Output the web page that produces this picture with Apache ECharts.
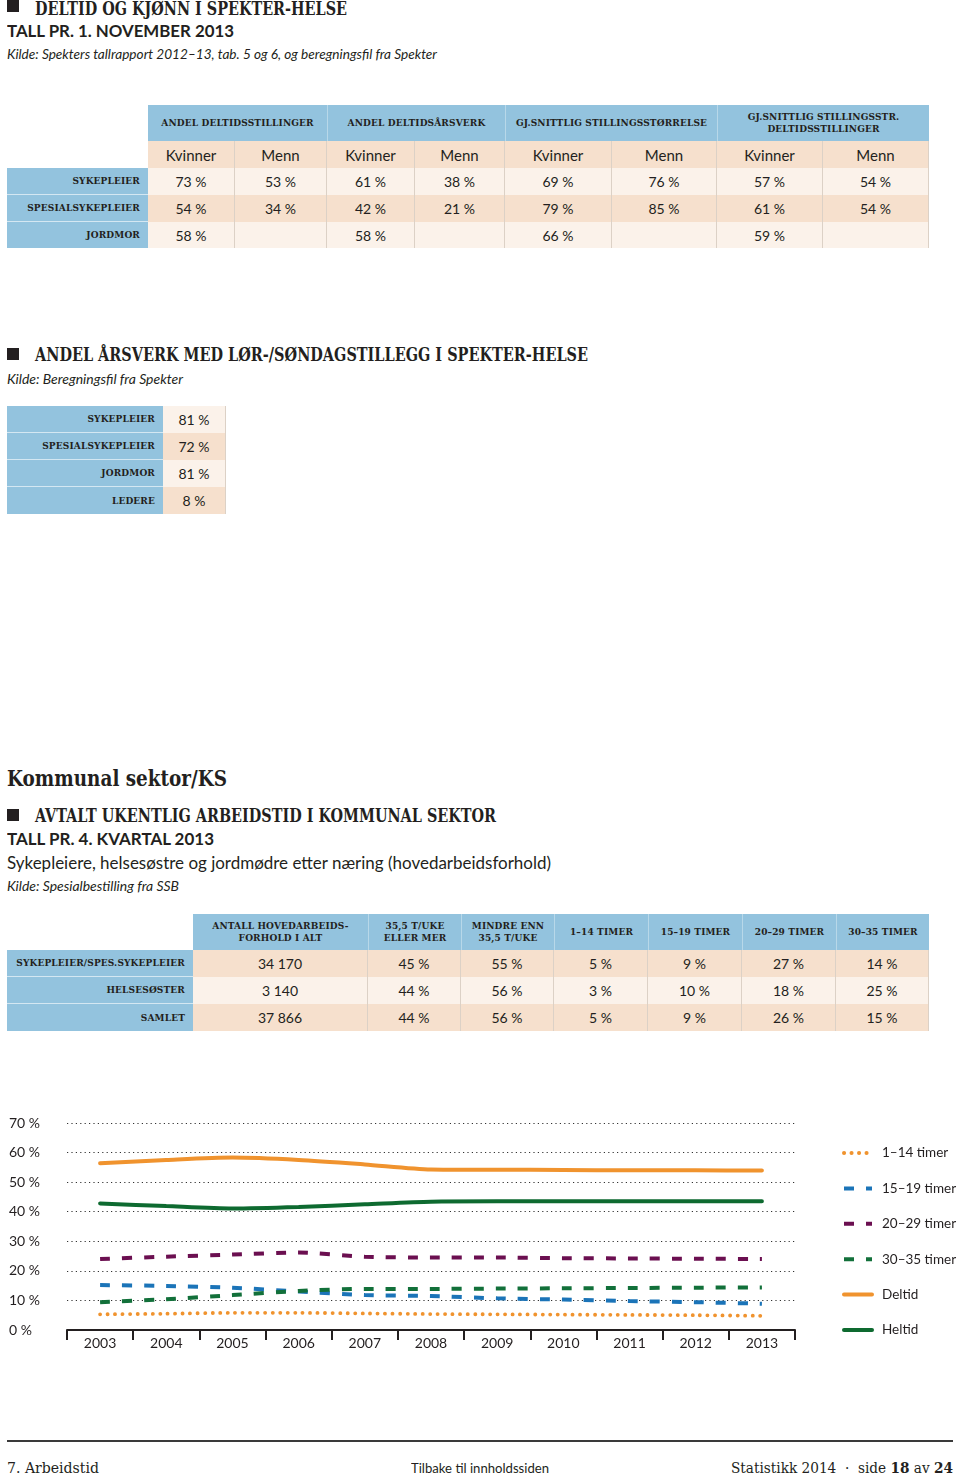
<!DOCTYPE html>
<html><head><meta charset="utf-8">
<script src="https://cdn.jsdelivr.net/npm/echarts@6/dist/echarts.min.js"></script>
<style>
body{margin:0;width:960px;height:1477px;position:relative;background:#fff;color:#231f20;overflow:hidden;font-family:Lato,"Open Sans",sans-serif}
.a{position:absolute;white-space:nowrap;transform-origin:left center}
.slab{font-family:"DejaVu Serif Condensed","DejaVu Serif",serif;font-stretch:condensed;font-weight:bold}
.sq{position:absolute;width:12px;height:12px;background:#231f20}
.cell{position:absolute;box-sizing:border-box;display:flex;align-items:center;justify-content:center;text-align:center;white-space:nowrap}
.hd{font-family:"DejaVu Serif Condensed","DejaVu Serif",serif;font-stretch:condensed;font-weight:bold;font-size:10px;line-height:12px;letter-spacing:0.15px}
.num{font-size:14px}
</style></head><body>
<div id="page"></div>
<div id="chart" style="position:absolute;left:0;top:1090px;width:960px;height:290px"></div>
<script>
// ---------- DATA ----------
const t1Groups = ['ANDEL DELTIDSSTILLINGER', 'ANDEL DELTIDSÅRSVERK', 'GJ.SNITTLIG STILLINGSSTØRRELSE', 'GJ.SNITTLIG STILLINGSSTR.<br>DELTIDSSTILLINGER'];
const t1Sub = ['Kvinner', 'Menn'];
const t1Rows = ['SYKEPLEIER', 'SPESIALSYKEPLEIER', 'JORDMOR'];
const t1Sykepleier = [73, 53, 61, 38, 69, 76, 57, 54];
const t1Spesialsykepleier = [54, 34, 42, 21, 79, 85, 61, 54];
const t1Jordmor = [58, null, 58, null, 66, null, 59, null];

const t2Rows = ['SYKEPLEIER', 'SPESIALSYKEPLEIER', 'JORDMOR', 'LEDERE'];
const t2Values = [81, 72, 81, 8];

const t3Headers = ['ANTALL HOVEDARBEIDS-<br>FORHOLD I ALT', '35,5 T/UKE<br>ELLER MER', 'MINDRE ENN<br>35,5 T/UKE', '1–14 TIMER', '15–19 TIMER', '20–29 TIMER', '30–35 TIMER'];
const t3Rows = ['SYKEPLEIER/SPES.SYKEPLEIER', 'HELSESØSTER', 'SAMLET'];
const t3Antall = [34170, 3140, 37866];
const t3Sykepleier = [45, 55, 5, 9, 27, 14];
const t3Helsesoster = [44, 56, 3, 10, 18, 25];
const t3Samlet = [44, 56, 5, 9, 26, 15];

const years = ['2003', '2004', '2005', '2006', '2007', '2008', '2009', '2010', '2011', '2012', '2013'];
const yTicks = [0, 10, 20, 30, 40, 50, 60, 70];
const timer1_14 = [5.3, 5.5, 5.8, 5.8, 5.6, 5.4, 5.3, 5.2, 5.1, 5.0, 4.8];
const timer15_19 = [15.2, 14.9, 14.3, 13.0, 11.8, 11.5, 10.7, 10.3, 9.8, 9.4, 8.9];
const timer20_29 = [24.0, 24.8, 25.5, 26.2, 24.8, 24.5, 24.5, 24.3, 24.2, 24.1, 24.0];
const timer30_35 = [9.4, 10.4, 11.8, 13.2, 13.9, 13.9, 14.0, 14.1, 14.2, 14.3, 14.4];
const deltid = [56.4, 57.5, 58.3, 57.5, 56.0, 54.3, 54.2, 54.1, 54.0, 54.0, 53.9];
const heltid = [42.8, 41.9, 41.1, 41.6, 42.5, 43.4, 43.5, 43.5, 43.5, 43.5, 43.5];

// ---------- LAYOUT ----------
const C = {blue: '#93c3de', peach: '#f6e0cd', light: '#fbf2ea', line: '#dcd1c6', ink: '#231f20'};
const page = document.getElementById('page');
function el(html) { const d = document.createElement('div'); d.innerHTML = html; const e = d.firstChild; page.appendChild(e); return e; }
function cell(x0, y0, x1, y1, bg, content, cls, extra) {
  const e = document.createElement('div');
  e.className = 'cell ' + (cls || '');
  e.style.cssText = `left:${x0}px;top:${y0}px;width:${x1 - x0}px;height:${y1 - y0}px;background:${bg};` + (extra || '');
  e.innerHTML = content;
  page.appendChild(e);
  return e;
}
function label(x0, y0, x1, y1, text) {
  return cell(x0, y0, x1, y1, C.blue, text, 'hd', 'justify-content:flex-end;padding-right:8px;');
}
const pct = v => v == null ? '' : v + ' %';
const thou = v => String(v).replace(/\B(?=(\d{3})+(?!\d))/g, ' ');

// Headings
function text(x, cy, size, s, cls, w, extraStyle) {
  const lh = Math.round(size * 1.25);
  const e = el(`<div class="a ${cls || ''}" style="left:${x}px;top:${cy - lh / 2}px;font-size:${size}px;line-height:${lh}px;${extraStyle || ''}">${s}</div>`);
  if (w) e.dataset.w = w;
  return e;
}
el('<div class="sq" style="left:7px;top:0px"></div>');
text(35, 8, 18, 'DELTID OG KJØNN I SPEKTER-HELSE', 'slab', 312);
text(7, 30, 17, 'TALL PR. 1. NOVEMBER 2013', '', 227, 'font-weight:bold');
text(7, 54, 14, 'Kilde: Spekters tallrapport 2012–13, tab. 5 og 6, og beregningsfil fra Spekter', '', 430, 'font-style:italic');

el('<div class="sq" style="left:7px;top:348px"></div>');
text(35, 354, 18, 'ANDEL ÅRSVERK MED LØR-/SØNDAGSTILLEGG I SPEKTER-HELSE', 'slab', 553);
text(7, 379, 14, 'Kilde: Beregningsfil fra Spekter', '', 176, 'font-style:italic');

text(7, 778, 22, 'Kommunal sektor/KS', 'slab', 220);
el('<div class="sq" style="left:7px;top:809px"></div>');
text(35, 815, 18, 'AVTALT UKENTLIG ARBEIDSTID I KOMMUNAL SEKTOR', 'slab', 461);
text(7, 838, 17, 'TALL PR. 4. KVARTAL 2013', '', 207, 'font-weight:bold');
text(7, 862, 17, 'Sykepleiere, helsesøstre og jordmødre etter næring (hovedarbeidsforhold)', '', 544);
text(7, 886, 14, 'Kilde: Spesialbestilling fra SSB', '', 172, 'font-style:italic');

// Table 1
const c1 = [148, 235, 327, 415, 505, 612, 717, 823, 929];
const r1 = [105, 141, 168, 195, 222, 248];
t1Groups.forEach((g, i) => {
  cell(c1[2 * i], r1[0], c1[2 * i + 2], r1[1], C.blue, g, 'hd', i > 0 ? 'border-left:1px solid rgba(255,255,255,0.35);' : '');
});
for (let j = 0; j < 8; j++) {
  cell(c1[j], r1[1], c1[j + 1], r1[2], C.peach, t1Sub[j % 2], '', `font-size:15px;border-right:1px solid ${C.line};`);
}
const t1Data = [t1Sykepleier, t1Spesialsykepleier, t1Jordmor];
t1Rows.forEach((name, i) => {
  const bg = i % 2 === 0 ? C.light : C.peach;
  label(7, r1[i + 2], 148, r1[i + 3], name).style.borderBottom = i < 2 ? '1px solid rgba(255,255,255,0.6)' : '';
  t1Data[i].forEach((v, j) => {
    cell(c1[j], r1[i + 2], c1[j + 1], r1[i + 3], bg, pct(v), 'num', `border-right:1px solid ${C.line};`);
  });
});

// Table 2
const r2 = [406, 433, 460, 487, 514];
t2Rows.forEach((name, i) => {
  label(7, r2[i], 163, r2[i + 1], name).style.borderBottom = i < 3 ? '1px solid rgba(255,255,255,0.6)' : '';
  cell(163, r2[i], 226, r2[i + 1], i % 2 === 0 ? C.light : C.peach, pct(t2Values[i]), 'num', `border-right:1px solid ${C.line};`);
});

// Table 3
const c3 = [193, 368, 461, 554, 648, 742, 836, 929];
const r3 = [914, 950, 977, 1004, 1031];
t3Headers.forEach((h, i) => {
  cell(c3[i], r3[0], c3[i + 1], r3[1], C.blue, h, 'hd', i > 0 ? 'border-left:1px solid rgba(255,255,255,0.35);' : '');
});
const t3Data = [t3Sykepleier, t3Helsesoster, t3Samlet];
t3Rows.forEach((name, i) => {
  const bg = i % 2 === 0 ? C.peach : C.light;
  label(7, r3[i + 1], 193, r3[i + 2], name).style.borderBottom = i < 2 ? '1px solid rgba(255,255,255,0.6)' : '';
  cell(c3[0], r3[i + 1], c3[1], r3[i + 2], bg, thou(t3Antall[i]), 'num', `border-right:1px solid ${C.line};`);
  t3Data[i].forEach((v, j) => {
    cell(c3[j + 1], r3[i + 1], c3[j + 2], r3[i + 2], bg, pct(v), 'num', `border-right:1px solid ${C.line};`);
  });
});

// Footer
el('<div style="position:absolute;left:7px;top:1440px;width:946px;height:2px;background:#3a3a3a"></div>');
text(7, 1468, 15, '7. Arbeidstid', 'slab', 92, 'font-weight:normal');
text(411, 1468, 13, 'Tilbake til innholdssiden', '', 138);
text(731, 1468, 15, 'Statistikk 2014 &nbsp;·&nbsp; side <b>18</b> av <b>24</b>', 'slab', 222, 'font-weight:normal');

// fit widths
function fit() {
  document.querySelectorAll('[data-w]').forEach(e => {
    e.style.transform = '';
    const w = e.getBoundingClientRect().width;
    e.style.transform = `scaleX(${(+e.dataset.w) / w})`;
  });
}
fit();
if (document.fonts && document.fonts.ready) document.fonts.ready.then(fit);

// ---------- CHART ----------
const chart = echarts.init(document.getElementById('chart'), null, {renderer: 'canvas'});
const font = 'Lato, "Open Sans", sans-serif';
const dash = [10, 12];
function ser(name, data, color, type, width) {
  return {
    name, type: 'line', data, symbol: 'none', smooth: 0.25,
    lineStyle: {color, width, type, cap: type === 'solid' ? 'round' : 'butt'},
    itemStyle: {color}
  };
}
const dotted = ser('1–14 timer', timer1_14, '#f0932e', [0.1, 7.4], 3.8);
dotted.lineStyle.cap = 'round';
chart.setOption({
  animation: false,
  grid: {left: 67, top: 33, width: 728, height: 207, containLabel: false},
  legend: {
    orient: 'vertical', left: 842, top: 56, padding: 0, itemWidth: 28, itemHeight: 14, itemGap: 21.4,
    itemStyle: {opacity: 0},
    lineStyle: {width: 4},
    textStyle: {fontSize: 13.5, color: '#231f20', fontFamily: font, padding: [0, 0, 0, 5]},
    data: ['1–14 timer', '15–19 timer', '20–29 timer', '30–35 timer', 'Deltid', 'Heltid']
  },
  xAxis: {
    type: 'category', data: years, boundaryGap: true,
    axisLine: {lineStyle: {color: '#231f20', width: 2}},
    axisTick: {show: true, interval: 0, length: 10, lineStyle: {color: '#231f20', width: 2}},
    axisLabel: {interval: 0, margin: 6, fontSize: 14, color: '#231f20', fontFamily: font}
  },
  yAxis: {
    type: 'value', min: yTicks[0], max: yTicks[yTicks.length - 1], interval: 10,
    axisLine: {show: false}, axisTick: {show: false},
    axisLabel: {formatter: '{value} %', align: 'left', margin: 58, fontSize: 14, color: '#231f20', fontFamily: font},
    splitLine: {lineStyle: {color: '#333', width: 1.2, type: [1.2, 3.2]}}
  },
  series: [
    dotted,
    ser('15–19 timer', timer15_19, '#1b74b8', dash, 4),
    ser('20–29 timer', timer20_29, '#6b0f50', dash, 4),
    ser('30–35 timer', timer30_35, '#12703a', dash, 4),
    ser('Deltid', deltid, '#f0932e', 'solid', 4),
    ser('Heltid', heltid, '#0e6a30', 'solid', 4)
  ]
});
</script>
</body></html>
